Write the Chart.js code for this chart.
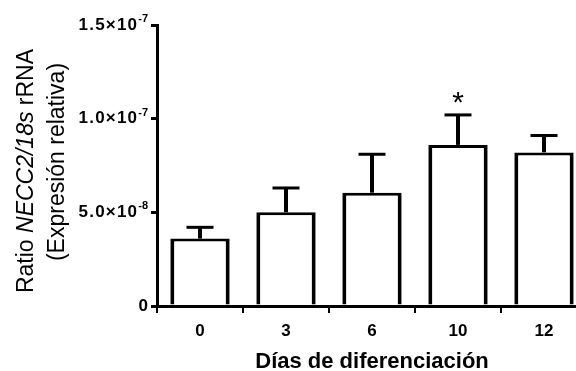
<!DOCTYPE html>
<html>
<head>
<meta charset="utf-8">
<script src="https://cdn.jsdelivr.net/npm/chart.js@4.4.0/dist/chart.umd.min.js"></script>
<style>
html,body{margin:0;padding:0;background:#fff;overflow:hidden;width:576px;height:371px;}
#wrap{position:relative;width:590px;height:371px;}
</style>
</head>
<body>
<div id="wrap"><canvas id="c"></canvas></div>
<script>
const categories = ['0', '3', '6', '10', '12'];
const means = [3.6e-8, 5.0e-8, 6.05e-8, 8.6e-8, 8.2e-8];
const sem = [0.6e-8, 1.3e-8, 2.05e-8, 1.6e-8, 0.9e-8];
const significant = ['', '', '', '*', ''];
const yTickValues = [0, 5e-8, 1e-7, 1.5e-7];
const yTickMantissa = ['0', '5.0×10', '1.0×10', '1.5×10'];
const yTickExponent = ['', '-8', '-7', '-7'];
const xTitle = 'Días de diferenciación';
const yTitleLine1 = [['Ratio ', false], ['NECC2/18s', true], [' rRNA', false]];
const yTitleLine2 = '(Expresión relativa)';

const FONT = '"Liberation Sans", Arial, sans-serif';

const customPlugin = {
  id: 'custom',
  afterDatasetsDraw(chart) {
    const ctx = chart.ctx;
    const x = chart.scales.x, y = chart.scales.y;
    const meta = chart.getDatasetMeta(0);
    ctx.save();
    ctx.strokeStyle = '#000';
    ctx.fillStyle = '#000';
    means.forEach((m, i) => {
      const cx = meta.data[i].x;
      const yTop = y.getPixelForValue(m);
      const yErr = y.getPixelForValue(m + sem[i]);
      ctx.lineWidth = 4;
      ctx.beginPath();
      ctx.moveTo(cx, yTop);
      ctx.lineTo(cx, yErr);
      ctx.stroke();
      ctx.lineWidth = 3;
      ctx.beginPath();
      ctx.moveTo(cx - 13.5, yErr);
      ctx.lineTo(cx + 13.5, yErr);
      ctx.stroke();
      if (significant[i]) {
        ctx.font = '30px ' + FONT;
        ctx.textAlign = 'center';
        ctx.textBaseline = 'middle';
        ctx.fillText(significant[i], cx, yErr - 11);
      }
    });
    // y tick labels with superscripts
    yTickValues.forEach((v, i) => {
      const py = y.getPixelForValue(v);
      const right = 148;
      ctx.textBaseline = 'middle';
      ctx.textAlign = 'left';
      let supW = 0;
      if (yTickExponent[i]) {
        ctx.font = 'bold 11px ' + FONT;
        supW = ctx.measureText(yTickExponent[i]).width;
      }
      ctx.font = 'bold 17px ' + FONT;
      ctx.letterSpacing = yTickExponent[i] ? '1.2px' : '0px';
      const mw = ctx.measureText(yTickMantissa[i]).width;
      const startX = right - supW - mw;
      ctx.fillText(yTickMantissa[i], startX, py);
      ctx.letterSpacing = '0px';
      if (yTickExponent[i]) {
        ctx.font = 'bold 11px ' + FONT;
        ctx.fillText(yTickExponent[i], startX + mw, py - 6);
      }
    });
    const drawRot = (cx, cy, fn) => {
      ctx.save();
      ctx.translate(cx, cy);
      ctx.rotate(-Math.PI / 2);
      fn();
      ctx.restore();
    };
    drawRot(27, 171, () => {
      ctx.textBaseline = 'middle';
      ctx.textAlign = 'left';
      let total = 0;
      const widths = yTitleLine1.map(([t, it]) => {
        ctx.font = (it ? 'italic ' : '') + '23px ' + FONT;
        const w = ctx.measureText(t).width;
        total += w;
        return w;
      });
      let xx = -total / 2;
      yTitleLine1.forEach(([t, it], k) => {
        ctx.font = (it ? 'italic ' : '') + '23px ' + FONT;
        ctx.fillText(t, xx, 0);
        xx += widths[k];
      });
    });
    drawRot(58, 162, () => {
      ctx.textBaseline = 'middle';
      ctx.textAlign = 'center';
      ctx.font = '23px ' + FONT;
      ctx.fillText(yTitleLine2, 0, 0);
    });
    ctx.restore();
  }
};

new Chart(document.getElementById('c'), {
  type: 'bar',
  data: {
    labels: categories,
    datasets: [{
      data: means,
      backgroundColor: '#fff',
      borderColor: '#000',
      borderWidth: {left: 4, right: 4, top: 3, bottom: 0},
      borderSkipped: false,
      barPercentage: 0.69,
      categoryPercentage: 1
    }]
  },
  options: {
    responsive: true,
    maintainAspectRatio: false,
    animation: false,
    events: [],
    layout: {padding: {left: 0, right: 3, top: 25, bottom: 0}},
    plugins: {legend: {display: false}, tooltip: {enabled: false}},
    scales: {
      x: {
        afterFit(s) { s.height = 65; },
        grid: {display: true, drawOnChartArea: false, drawTicks: true, tickLength: 7, color: '#000', lineWidth: 2},
        border: {display: true, color: '#000', width: 3},
        ticks: {color: '#000', font: {family: FONT, size: 17, weight: 'bold'}, padding: 8},
        title: {display: true, text: xTitle, color: '#000', font: {family: FONT, size: 22, weight: 'bold', lineHeight: 0.86}, padding: {top: 0, bottom: 0}}
      },
      y: {
        min: 0, max: 1.5e-7,
        afterFit(s) { s.width = 157; },
        afterBuildTicks(s) { s.ticks = yTickValues.map(v => ({value: v})); },
        grid: {display: true, drawOnChartArea: false, drawTicks: true, tickLength: 6, color: '#000', lineWidth: 3},
        border: {display: true, color: '#000', width: 3},
        ticks: {display: false}
      }
    }
  },
  plugins: [customPlugin]
});
</script>
</body>
</html>
